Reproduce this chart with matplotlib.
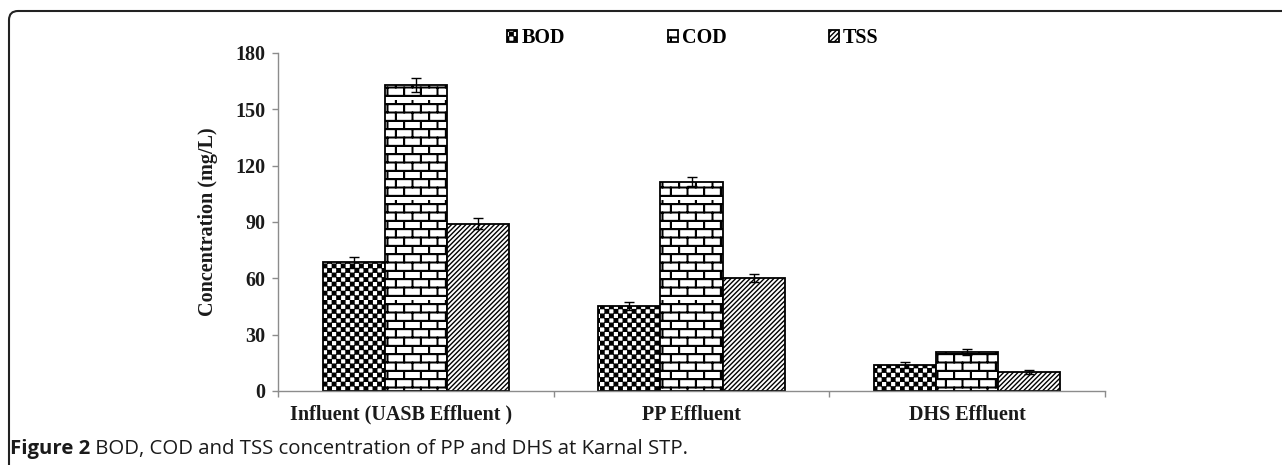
import warnings
import matplotlib
matplotlib.use("Agg")
import matplotlib.pyplot as plt
import matplotlib.hatch as mhatch
import matplotlib.transforms as mtransforms
from matplotlib.path import Path
from matplotlib.patches import FancyBboxPatch
import numpy as np

warnings.filterwarnings("ignore")

# data
categories = ["Influent (UASB Effluent )", "PP Effluent", "DHS Effluent"]
series = ["BOD", "COD", "TSS"]
bod = [68.5, 45.3, 13.8]
cod = [163.0, 111.5, 20.8]
tss = [89.2, 60.3, 10.3]
bod_err = [3.0, 2.3, 1.4]
cod_err = [3.6, 2.2, 1.7]
tss_err = [3.0, 2.0, 1.0]
yticks = [0, 30, 60, 90, 120, 150, 180]
caption_bold = "Figure 2"
caption_rest = " BOD, COD and TSS concentration of PP and DHS at Karnal STP."


# custom hatches: 'c' = checkerboard, 'b' = brick wall
class CheckerHatch(mhatch.HatchPatternBase):
    n = 22
    pad = 0.005

    def __init__(self, hatch, density):
        self.num_vertices = (self.n * self.n // 2) * 5 if 'c' in hatch else 0

    def set_vertices_and_codes(self, vertices, codes):
        s = 1.0 / self.n
        k = 0
        for i in range(self.n):
            for j in range(self.n):
                if (i + j) % 2:
                    continue
                x0, y0 = j * s + self.pad, i * s + self.pad
                x1, y1 = (j + 1) * s - self.pad, (i + 1) * s - self.pad
                vertices[k:k + 5] = [(x0, y0), (x1, y0), (x1, y1), (x0, y1), (x0, y0)]
                codes[k:k + 5] = [Path.MOVETO, Path.LINETO, Path.LINETO,
                                  Path.LINETO, Path.CLOSEPOLY]
                k += 5


class BrickHatch(mhatch.HatchPatternBase):
    rows, cols = 12, 6
    offs = (-0.003, 0.003)  # each mortar line drawn twice -> thicker

    def __init__(self, hatch, density):
        on = 'b' in hatch
        per = len(self.offs)
        self.num_vertices = (self.rows * 2 + self.rows * self.cols * 2) * per if on else 0

    def set_vertices_and_codes(self, vertices, codes):
        k = 0
        for d in self.offs:
            for r in range(self.rows):
                y0 = (r + 0.5) / self.rows
                y1 = (r + 1.5) / self.rows
                vertices[k:k + 2] = [(0, y0 + d), (1, y0 + d)]
                codes[k:k + 2] = [Path.MOVETO, Path.LINETO]
                k += 2
                shift = 0.5 * (r % 2) + 0.25
                for c in range(self.cols):
                    xx = (c + shift) / self.cols + d
                    vertices[k:k + 2] = [(xx, y0), (xx, min(y1, 1.0))]
                    codes[k:k + 2] = [Path.MOVETO, Path.LINETO]
                    k += 2


mhatch._hatch_types.append(CheckerHatch)
mhatch._hatch_types.append(BrickHatch)

plt.rcParams['hatch.linewidth'] = 1.0

serif = 'Liberation Serif'
fs = 14.5

fig = plt.figure(figsize=(12.82, 4.65), dpi=100)

# rounded frame, top + left edges only visible
frame = FancyBboxPatch((9, -60), 1400, 465 - 11 + 60,
                       boxstyle="round,pad=0,rounding_size=9",
                       transform=mtransforms.IdentityTransform(), facecolor='none',
                       edgecolor='#222222', linewidth=1.5)
fig.patches.append(frame)

ax = fig.add_axes([278 / 1282, 1 - 391 / 465, (1105 - 278) / 1282, (391 - 53) / 465])

x = np.arange(len(categories))
w = 0.225
ekw = dict(ecolor='black', elinewidth=1.0, capsize=3.8, capthick=1.0)
ax.bar(x - w, bod, w, yerr=bod_err, facecolor='white', edgecolor='black',
       linewidth=1.3, hatch='c', error_kw=ekw, label=series[0])
ax.bar(x, cod, w, yerr=cod_err, facecolor='white', edgecolor='black',
       linewidth=1.3, hatch='b', error_kw=ekw, label=series[1])
ax.bar(x + w, tss, w, yerr=tss_err, facecolor='white', edgecolor='black',
       linewidth=1.3, hatch='///////', error_kw=ekw, label=series[2])

ax.set_xlim(-0.5, 2.5)
ax.set_ylim(0, 180)
ax.set_yticks(yticks)
ax.set_yticklabels([str(v) for v in yticks], fontfamily=serif, fontweight='bold',
                   fontsize=fs, color='#1a1a1a')
ax.set_xticks(x)
ax.set_xticklabels(categories, fontfamily=serif, fontweight='bold',
                   fontsize=fs, color='#1a1a1a')
ax.set_xticks(np.arange(-0.5, 3, 1), minor=True)
ax.tick_params(axis='x', which='major', length=0, pad=10)
ax.tick_params(axis='x', which='minor', length=4, color='#8c8c8c', width=1)
ax.tick_params(axis='y', length=4, color='#8c8c8c', width=1, pad=5)

# first label sits a bit left of its group centre in the original
shift = mtransforms.ScaledTranslation(-15 / 100, 0, fig.dpi_scale_trans)
lab0 = ax.get_xticklabels()[0]
lab0.set_transform(lab0.get_transform() + shift)

for side in ['top', 'right']:
    ax.spines[side].set_visible(False)
for side in ['left', 'bottom']:
    ax.spines[side].set_color('#8c8c8c')
    ax.spines[side].set_linewidth(1.0)

ax.set_ylabel("Concentration (mg/L)", fontfamily=serif, fontweight='bold',
              fontsize=fs, color='#1a1a1a')
ax.yaxis.set_label_coords(-0.073, 0.5)

fig.legend(loc='center', bbox_to_anchor=(693 / 1282, 1 - 38 / 465), ncol=3,
           frameon=False, handlelength=0.5, handleheight=0.5,
           handletextpad=0.2, columnspacing=5.1,
           prop=dict(family=serif, weight='bold', size=fs))

t1 = fig.text(10 / 1282, 1 - 459 / 465, caption_bold, fontfamily='Open Sans',
              fontweight='bold', fontsize=14.7, color='#1a1a1a', va='bottom')
plt.annotate(caption_rest, xy=(1, 0), xycoords=t1, va='bottom', ha='left',
             fontfamily='Open Sans', fontsize=14.7, color='#1a1a1a',
             annotation_clip=False)

fig.savefig("out.png", dpi=100)
